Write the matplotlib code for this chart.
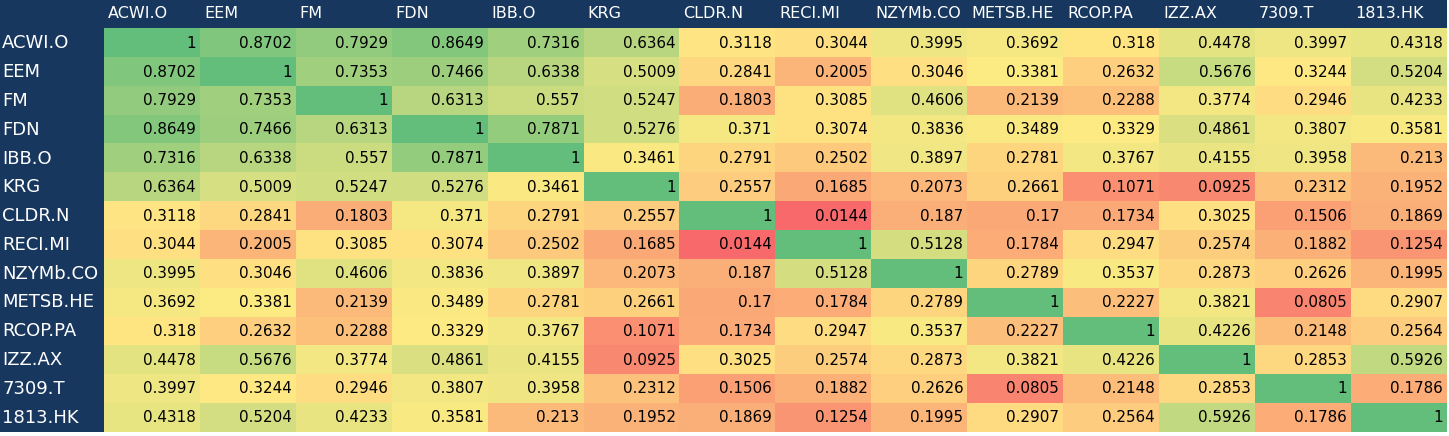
import matplotlib.pyplot as plt
import numpy as np
from matplotlib.colors import LinearSegmentedColormap, Normalize, to_rgb

# tickers, same order for rows and columns
tickers = ["ACWI.O", "EEM", "FM", "FDN", "IBB.O", "KRG", "CLDR.N", "RECI.MI",
           "NZYMb.CO", "METSB.HE", "RCOP.PA", "IZZ.AX", "7309.T", "1813.HK"]

corr = [
    [1, 0.8702, 0.7929, 0.8649, 0.7316, 0.6364, 0.3118, 0.3044, 0.3995, 0.3692, 0.318, 0.4478, 0.3997, 0.4318],
    [0.8702, 1, 0.7353, 0.7466, 0.6338, 0.5009, 0.2841, 0.2005, 0.3046, 0.3381, 0.2632, 0.5676, 0.3244, 0.5204],
    [0.7929, 0.7353, 1, 0.6313, 0.557, 0.5247, 0.1803, 0.3085, 0.4606, 0.2139, 0.2288, 0.3774, 0.2946, 0.4233],
    [0.8649, 0.7466, 0.6313, 1, 0.7871, 0.5276, 0.371, 0.3074, 0.3836, 0.3489, 0.3329, 0.4861, 0.3807, 0.3581],
    [0.7316, 0.6338, 0.557, 0.7871, 1, 0.3461, 0.2791, 0.2502, 0.3897, 0.2781, 0.3767, 0.4155, 0.3958, 0.213],
    [0.6364, 0.5009, 0.5247, 0.5276, 0.3461, 1, 0.2557, 0.1685, 0.2073, 0.2661, 0.1071, 0.0925, 0.2312, 0.1952],
    [0.3118, 0.2841, 0.1803, 0.371, 0.2791, 0.2557, 1, 0.0144, 0.187, 0.17, 0.1734, 0.3025, 0.1506, 0.1869],
    [0.3044, 0.2005, 0.3085, 0.3074, 0.2502, 0.1685, 0.0144, 1, 0.5128, 0.1784, 0.2947, 0.2574, 0.1882, 0.1254],
    [0.3995, 0.3046, 0.4606, 0.3836, 0.3897, 0.2073, 0.187, 0.5128, 1, 0.2789, 0.3537, 0.2873, 0.2626, 0.1995],
    [0.3692, 0.3381, 0.2139, 0.3489, 0.2781, 0.2661, 0.17, 0.1784, 0.2789, 1, 0.2227, 0.3821, 0.0805, 0.2907],
    [0.318, 0.2632, 0.2288, 0.3329, 0.3767, 0.1071, 0.1734, 0.2947, 0.3537, 0.2227, 1, 0.4226, 0.2148, 0.2564],
    [0.4478, 0.5676, 0.3774, 0.4861, 0.4155, 0.0925, 0.3025, 0.2574, 0.2873, 0.3821, 0.4226, 1, 0.2853, 0.5926],
    [0.3997, 0.3244, 0.2946, 0.3807, 0.3958, 0.2312, 0.1506, 0.1882, 0.2626, 0.0805, 0.2148, 0.2853, 1, 0.1786],
    [0.4318, 0.5204, 0.4233, 0.3581, 0.213, 0.1952, 0.1869, 0.1254, 0.1995, 0.2907, 0.2564, 0.5926, 0.1786, 1],
]

navy = "#17375E"
W, H = 1449, 436
cw = (1447 - 104) / 14.0    # column width, px
rh = (432 - 29) / 14.0      # row height, px

data = np.array(corr)
n = len(tickers)

# excel style 3 colour scale: min red, 50th percentile yellow, max green
vmin, vmid, vmax = data.min(), np.percentile(data, 50), data.max()
pos = (vmid - vmin) / (vmax - vmin)
cmap = LinearSegmentedColormap.from_list(
    "rdylgn_xl", [(0, to_rgb("#F8696B")), (pos, to_rgb("#FFEB84")), (1, to_rgb("#63BE7B"))])
norm = Normalize(vmin, vmax)

fig = plt.figure(figsize=(W / 100, H / 100), dpi=100)
fig.patch.set_facecolor("white")
ax = fig.add_axes([0, 4 / H, 1447 / W, 432 / H])
ax.set_facecolor(navy)

ax.imshow(data, cmap=cmap, norm=norm, extent=(0, n, n, 0), aspect="auto",
          interpolation="nearest")
ax.set_xlim(-104 / cw, n)
ax.set_ylim(n, -29 / rh)
ax.set_xticks([])
ax.set_yticks([])
for s in ax.spines.values():
    s.set_visible(False)

pad_x = 4 / cw
for j, t in enumerate(tickers):
    ax.text(j + pad_x, -29 / rh / 2 - 0.05, t, color="white", fontsize=11.5,
            ha="left", va="center")
for i, t in enumerate(tickers):
    ax.text(-104 / cw + 2 / cw, i + 0.5, t, color="white", fontsize=13,
            ha="left", va="center")
    for j in range(n):
        ax.text(j + 1 - pad_x, i + 0.5, "{:g}".format(data[i, j]), color="black",
                fontsize=10.9, ha="right", va="center")

fig.savefig("out.png", dpi=100, facecolor=fig.get_facecolor())
